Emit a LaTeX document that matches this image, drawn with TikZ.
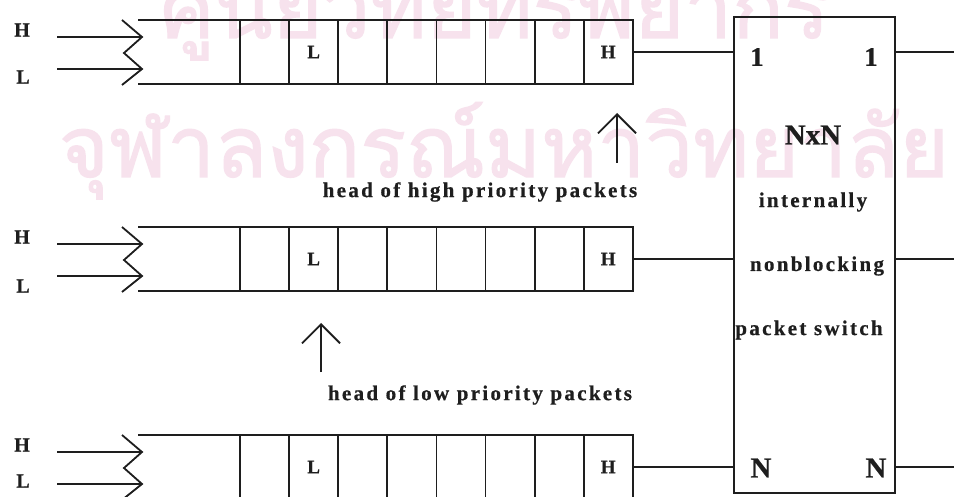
\documentclass[tikz,border=0pt]{standalone}
\usepackage{fontspec}
\setmainfont{Liberation Serif}[BoldFeatures={FakeBold=0.6}]
\newfontfamily\lblfont[LetterSpace=11,BoldFeatures={FakeBold=0.6}]{Liberation Serif}
\newfontfamily\thaifont[Script=Thai,FakeBold=1.5]{Loma}
\usetikzlibrary{arrows.meta}
\definecolor{wmpink}{RGB}{247,226,237}
\definecolor{ink}{RGB}{30,30,30}
\newlength\wmwidth
\tikzset{
  ln/.style={draw=ink,line width=1.8pt},
  cellbox/.style={draw=ink,line width=1.8pt,minimum width=49.1pt,minimum height=64pt,inner sep=0pt,outer sep=0pt,font=\fontsize{19}{19}\selectfont\bfseries,text=ink},
  iolbl/.style={font=\fontsize{20}{20}\selectfont\bfseries,text=ink,inner sep=0pt},
  toplbl/.style={font=\lblfont\fontsize{21}{21}\selectfont\bfseries,text=ink,inner sep=0pt},
  portlbl/.style={font=\fontsize{27}{27}\selectfont\bfseries,text=ink,inner sep=0pt},
  bigN/.style={font=\fontsize{29}{29}\selectfont\bfseries,text=ink,inner sep=0pt},
  uparrow/.style={draw=ink,line width=1.8pt,-{Straight Barb[length=19pt,width=38pt,line width=1.8pt]}},
  wm/.style={text=wmpink,inner sep=0pt,anchor=base},
}
\begin{document}
\settowidth\wmwidth{\thaifont จุฬาลงกรณ์มหาวิทยาลัย}%
\pgfmathsetmacro\wmf{890/\wmwidth}%
\begin{tikzpicture}[x=1pt,y=-1pt]
\useasboundingbox (0,0) rectangle (954,497);
\fill[white] (0,0) rectangle (954,497);
% watermark, both lines at one size
\node[wm] (wmA) at (495,38) {\scalebox{\wmf}{\thaifont ศูนย์วิทยทรัพยากร}};
\node[wm] (wmB) at (504,177) {\scalebox{\wmf}{\thaifont จุฬาลงกรณ์มหาวิทยาลัย}};
% switch
\node[ln,minimum width=161pt,minimum height=476pt,inner sep=0pt] (sw) at (814.5,255) {};
\node[bigN] (nxn) at (813,135) {NxN};
\node[toplbl] (t1) at (813,202) {internally};
\node[toplbl] (t2) at (817,266) {nonblocking};
\node[toplbl] (t3) at (809,330) {packet switch};
\node[portlbl] (pi1) at (757,57) {1};
\node[portlbl] (po1) at (871,57) {1};
\node[bigN] (pin) at (761,468) {N};
\node[bigN] (pon) at (876,468) {N};
% queues
\foreach \r/\t/\lo in {1/20/57,2/227/59,3/435/46}{
  \foreach \j/\lab in {1/,2/L,3/,4/,5/,6/,7/,8/H}{
    \node[cellbox] (r\r c\j) at ({240+49.1*(\j-0.5)},\t+32) {\lab};
  }
  \coordinate (r\r qa) at (138,\t);
  \coordinate (r\r qb) at (138,\t+64);
  \draw[ln] (r\r qa) -- (r\r c1.north west);
  \draw[ln] (r\r qb) -- (r\r c1.south west);
  % inputs
  \coordinate (r\r hs) at (57,\t+17);
  \coordinate (r\r he) at (142,\t+17);
  \coordinate (r\r ls) at (57,\t+49);
  \coordinate (r\r le) at (142,\t+49);
  \draw[ln] (r\r hs) -- (r\r he);
  \draw[ln] (r\r ls) -- (r\r le);
  \draw[ln,line join=miter] (122,\t) -- (r\r he) -- (124,\t+33) -- (r\r le) -- (122,\t+65);
  \node[iolbl] (r\r hl) at (22,\t+10) {H};
  \node[iolbl] (r\r ll) at (23,\t+\lo) {L};
  % outputs
  \draw[ln] (r\r c8.east) -- (sw.west |- r\r c8.east);
  \coordinate (r\r out) at (954,\t+32);
  \draw[ln] (sw.east |- r\r c8.east) -- (r\r out);
}
% pointers
\coordinate (hiA) at (617,163);
\coordinate (hiB) at (617,113);
\draw[uparrow] (hiA) -- (hiB);
\node[toplbl] (hil) at (480,192) {head of high priority packets};
\coordinate (loA) at (321,372);
\coordinate (loB) at (321,323);
\draw[uparrow] (loA) -- (loB);
\node[toplbl] (lol) at (480,395) {head of low priority packets};
\end{tikzpicture}
\end{document}
